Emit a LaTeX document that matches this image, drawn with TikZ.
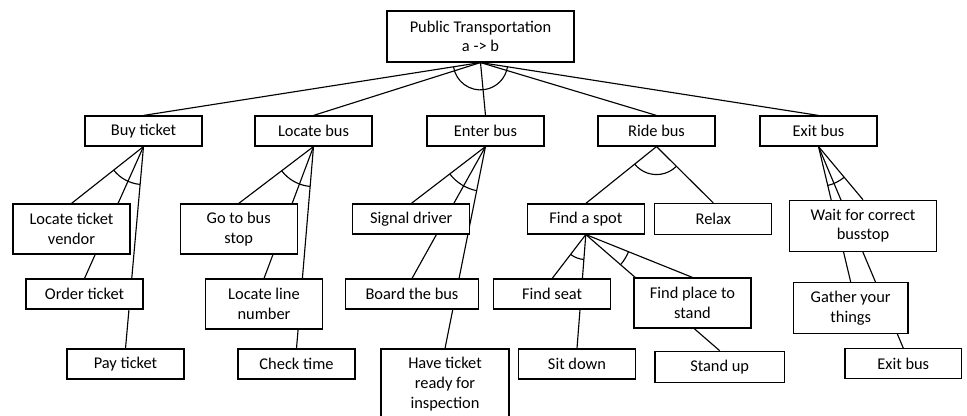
\documentclass[tikz,border=0pt]{standalone}
\usepackage{fontspec}
\setmainfont{Carlito}
\usetikzlibrary{calc,backgrounds}
\newcommand\andarc[4]{%
  \draw[link] let \p1=($(#2.north)-(#1.south)$), \p2=($(#3.north)-(#1.south)$),
    \n1={atan2(\y1,\x1)}, \n2={atan2(\y2,\x2)} in
    ($(#1.south)+(\n1:#4)$) arc[start angle=\n1, end angle=\n2, radius=#4];}
\begin{document}
\begin{tikzpicture}[x=0.75pt,y=-0.75pt,
  box/.style={draw,line width=0.85pt,fill=white,inner sep=0pt,align=center,
    font=\fontsize{12.3}{14.8}\selectfont},
  wh/.style 2 args={minimum width=#1*0.75pt,minimum height=#2*0.75pt},
  link/.style={line width=0.85pt}]
\useasboundingbox (0,0) rectangle (967,416);
% top
\node[box,wh={187}{51}] (top) at (480.5,36.5) {Public Transportation\\a -> b};
% level 1
\node[box,wh={117}{30}] (buy) at (143.5,131) {Buy ticket};
\node[box,wh={117}{30}] (locb) at (313.5,131) {Locate bus};
\node[box,wh={117}{30}] (enter) at (485.5,131) {Enter bus};
\node[box,wh={117}{30}] (ride) at (656.5,131) {Ride bus};
\node[box,wh={117}{30}] (exit) at (818.5,131) {Exit bus};
% buy ticket
\node[box,wh={117}{50}] (ltv) at (71.5,229) {Locate ticket\\vendor};
\node[box,wh={117}{30}] (order) at (84.5,294) {Order ticket};
\node[box,wh={117}{30}] (pay) at (125.5,364) {Pay ticket};
% locate bus
\node[box,wh={117}{50}] (gobus) at (238.7,229) {Go to bus\\stop};
\node[box,wh={117}{50}] (lnum) at (264,304) {Locate line\\number};
\node[box,wh={117}{30}] (check) at (296.5,364) {Check time};
% enter bus
\node[box,wh={117}{30}] (signal) at (411.3,219) {Signal driver};
\node[box,wh={132.7}{30}] (board) at (412,294) {Board the bus};
\node[box,wh={128}{70}] (have) at (445,384) {Have ticket\\ready for\\inspection};
% ride bus
\node[box,wh={117}{30}] (spot) at (585.8,219) {Find a spot};
\node[box,wh={117}{31}] (relax) at (713.3,219) {Relax};
\node[box,wh={117}{30}] (seat) at (552.2,294) {Find seat};
\node[box,wh={117}{50}] (place) at (692.5,303) {Find place to\\stand};
\node[box,wh={117}{30}] (sit) at (577,364) {Sit down};
\node[box,wh={129.3}{31}] (stand) at (719.7,366.8) {Stand up};
% exit bus
\node[box,wh={147.4}{51}] (wait) at (863,225.8) {Wait for correct\\busstop};
\node[box,wh={114.7}{50.7}] (gather) at (850.7,308) {Gather your\\things};
\node[box,wh={116.7}{30}] (exit2) at (903.3,363.7) {Exit bus};
\begin{scope}[on background layer]
\foreach \p/\c in {top/buy,top/locb,top/enter,top/ride,top/exit,
  buy/ltv,buy/order,buy/pay,locb/gobus,locb/lnum,locb/check,
  enter/signal,enter/board,enter/have,ride/spot,ride/relax,
  spot/seat,spot/sit,spot/place,spot/stand,exit/gather,exit/exit2,exit/wait}
  \draw[link] (\p.south) -- (\c.north);
\andarc{top}{buy}{exit}{20.5pt}
\andarc{buy}{ltv}{pay}{28.5pt}
\andarc{locb}{gobus}{check}{30pt}
\andarc{enter}{signal}{have}{33.75pt}
\andarc{ride}{spot}{relax}{21pt}
\andarc{spot}{seat}{sit}{18.75pt}
\andarc{spot}{stand}{place}{34.5pt}
\andarc{exit}{gather}{wait}{30pt}
\end{scope}
\end{tikzpicture}
\end{document}
